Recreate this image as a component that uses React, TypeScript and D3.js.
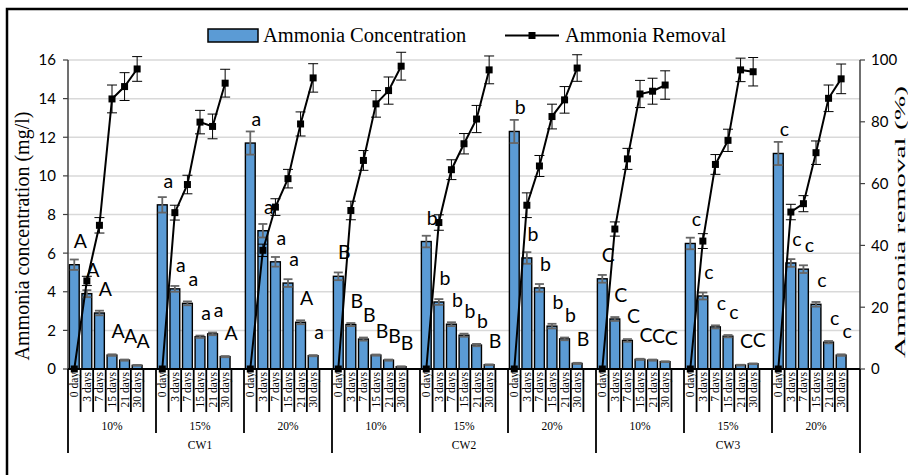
import React from "react";
import * as d3 from "d3";

const wetlands = ["CW1", "CW2", "CW3"];
const doses = ["10%", "15%", "20%", "10%", "15%", "20%", "10%", "15%", "20%"];
const days = ["0 day", "3 days", "7 days", "15 days", "21 days", "30 days"];

// Ammonia concentration (mg/l) per group (CW x dose)
const concCW1_10 = [5.4, 3.9, 2.9, 0.72, 0.46, 0.19];
const concCW1_15 = [8.5, 4.15, 3.4, 1.67, 1.82, 0.64];
const concCW1_20 = [11.7, 7.16, 5.55, 4.45, 2.42, 0.69];
const concCW2_10 = [4.8, 2.3, 1.55, 0.72, 0.46, 0.12];
const concCW2_15 = [6.6, 3.47, 2.32, 1.75, 1.24, 0.22];
const concCW2_20 = [12.3, 5.75, 4.2, 2.22, 1.56, 0.29];
const concCW3_10 = [4.67, 2.59, 1.48, 0.5, 0.46, 0.38];
const concCW3_15 = [6.5, 3.78, 2.18, 1.7, 0.2, 0.27];
const concCW3_20 = [11.16, 5.49, 5.17, 3.35, 1.39, 0.72];

const concErrCW1_10 = [0.27, 0.18, 0.12, 0.04, 0.03, 0.02];
const concErrCW1_15 = [0.4, 0.15, 0.1, 0.06, 0.07, 0.03];
const concErrCW1_20 = [0.6, 0.35, 0.25, 0.2, 0.1, 0.03];
const concErrCW2_10 = [0.2, 0.08, 0.08, 0.03, 0.03, 0.02];
const concErrCW2_15 = [0.3, 0.15, 0.1, 0.08, 0.06, 0.02];
const concErrCW2_20 = [0.6, 0.3, 0.2, 0.12, 0.07, 0.03];
const concErrCW3_10 = [0.2, 0.1, 0.07, 0.03, 0.03, 0.02];
const concErrCW3_15 = [0.3, 0.18, 0.08, 0.06, 0.02, 0.02];
const concErrCW3_20 = [0.6, 0.2, 0.2, 0.12, 0.06, 0.04];

// Ammonia removal (%)
const remCW1_10 = [0, 28.5, 46.5, 87.4, 91.4, 97.1];
const remCW1_15 = [0, 50.6, 59.7, 79.9, 78.5, 92.5];
const remCW1_20 = [0, 38.4, 52.4, 61.6, 79.3, 94.2];
const remCW2_10 = [0, 51.3, 67.5, 85.8, 90.1, 98];
const remCW2_15 = [0, 47.4, 64.5, 72.9, 80.9, 96.8];
const remCW2_20 = [0, 53, 65.7, 81.7, 87.1, 97.4];
const remCW3_10 = [0, 45.3, 68, 89, 89.9, 91.9];
const remCW3_15 = [0, 41.4, 66.2, 74, 96.8, 96.2];
const remCW3_20 = [0, 50.8, 53.5, 70, 87.6, 93.9];

const remErrCW1_10 = [0, 1.5, 2.5, 4.5, 4.5, 4];
const remErrCW1_15 = [0, 2.4, 3, 3.8, 4, 4.5];
const remErrCW1_20 = [0, 2, 2.7, 3, 3.9, 4.6];
const remErrCW2_10 = [0, 3, 3.2, 4.3, 4.4, 4.5];
const remErrCW2_15 = [0, 2.5, 3.2, 3.3, 4.4, 4.5];
const remErrCW2_20 = [0, 4, 3.4, 4, 4.3, 4.3];
const remErrCW3_10 = [0, 2.3, 3.4, 4.4, 4.2, 4.6];
const remErrCW3_15 = [0, 2.4, 3.2, 3.6, 3.8, 4.6];
const remErrCW3_20 = [0, 2.5, 2.6, 3.8, 4.3, 4.8];

const lettersCW1_10 = ["A", "A", "A", "A", "A", "A"];
const lettersCW1_15 = ["a", "a", "a", "a", "a", "A"];
const lettersCW1_20 = ["a", "a", "a", "a", "A", "a"];
const lettersCW2_10 = ["B", "B", "B", "B", "B", "B"];
const lettersCW2_15 = ["b", "b", "b", "b", "b", "B"];
const lettersCW2_20 = ["b", "b", "b", "b", "b", "B"];
const lettersCW3_10 = ["C", "C", "C", "C", "C", "C"];
const lettersCW3_15 = ["c", "c", "c", "c", "C", "C"];
const lettersCW3_20 = ["c", "c", "c", "c", "c", "c"];

const leftTicks = [0, 2, 4, 6, 8, 10, 12, 14, 16];
const rightTicks = [0, 20, 40, 60, 80, 100];

const conc = [concCW1_10, concCW1_15, concCW1_20, concCW2_10, concCW2_15, concCW2_20, concCW3_10, concCW3_15, concCW3_20];
const concErr = [concErrCW1_10, concErrCW1_15, concErrCW1_20, concErrCW2_10, concErrCW2_15, concErrCW2_20, concErrCW3_10, concErrCW3_15, concErrCW3_20];
const rem = [remCW1_10, remCW1_15, remCW1_20, remCW2_10, remCW2_15, remCW2_20, remCW3_10, remCW3_15, remCW3_20];
const remErr = [remErrCW1_10, remErrCW1_15, remErrCW1_20, remErrCW2_10, remErrCW2_15, remErrCW2_20, remErrCW3_10, remErrCW3_15, remErrCW3_20];
const letters = [lettersCW1_10, lettersCW1_15, lettersCW1_20, lettersCW2_10, lettersCW2_15, lettersCW2_20, lettersCW3_10, lettersCW3_15, lettersCW3_20];

const W = 908;
const H = 475;
const PL = 68;
const PR = 860;
const PT = 60;
const PB = 369;
const SLOTS = 7; // 6 days + 1 empty slot per group

const serif = "'Liberation Serif', 'Times New Roman', serif";
const sans = "Lato, 'Liberation Sans', sans-serif";

export default function App() {
  const nCat = doses.length * SLOTS;
  const x = d3.scaleBand<number>().domain(d3.range(nCat)).range([PL, PR]);
  const step = x.step();
  const bw = step * 0.78;
  const yL = d3.scaleLinear().domain([0, 16]).range([PB, PT]);
  const yR = d3.scaleLinear().domain([0, 100]).range([PB, PT]);
  const cx = (g: number, d: number) => (x(g * SLOTS + d) as number) + step / 2;

  return (
    <svg width={W} height={H} style={{ position: "absolute", left: 0, top: 0, background: "#fff" }}>
      <rect x={0} y={0} width={W} height={H} fill="#fff" />
      {/* outer border */}
      <rect x={7} y={9} width={1000} height={1000} fill="none" stroke="#000" strokeWidth={2.5} />

      {/* legend */}
      <rect x={208} y={29} width={50} height={13} fill="#5B9BD5" stroke="#000" strokeWidth={1.5} />
      <text x={263} y={42} fontFamily={serif} fontSize={20.5} fill="#000">Ammonia Concentration</text>
      <line x1={505} x2={559} y1={35.5} y2={35.5} stroke="#000" strokeWidth={2} />
      <rect x={528.5} y={32} width={7} height={7} fill="#000" />
      <text x={565} y={42} fontFamily={serif} fontSize={20.5} fill="#000">Ammonia Removal</text>

      {/* gridlines */}
      {leftTicks.filter((t) => t > 0).map((t) => (
        <line key={"g" + t} x1={PL} x2={PR} y1={yL(t)} y2={yL(t)} stroke="#d9d9d9" strokeWidth={1.5} />
      ))}

      {/* bars */}
      {conc.map((arr, g) =>
        arr.map((v, d) => (
          <rect
            key={"b" + g + "-" + d}
            x={cx(g, d) - bw / 2}
            y={yL(v)}
            width={bw}
            height={PB - yL(v)}
            fill="#5B9BD5"
            stroke="#000"
            strokeWidth={1.4}
          />
        ))
      )}
      {/* bar error bars */}
      {conc.map((arr, g) =>
        arr.map((v, d) => {
          const e = concErr[g][d];
          const c = cx(g, d);
          const y1 = yL(v + e);
          const y2 = yL(Math.max(0, v - e));
          return (
            <g key={"be" + g + "-" + d} stroke="#666" strokeWidth={1.8}>
              <line x1={c} x2={c} y1={y1} y2={y2} />
              <line x1={c - 4.5} x2={c + 4.5} y1={y1} y2={y1} />
              <line x1={c - 4.5} x2={c + 4.5} y1={y2} y2={y2} />
            </g>
          );
        })
      )}

      {/* removal lines */}
      {rem.map((arr, g) => {
        const lg = d3
          .line<number>()
          .x((_, i) => cx(g, i))
          .y((v) => yR(v));
        return <path key={"l" + g} d={lg(arr) || ""} fill="none" stroke="#000" strokeWidth={2} />;
      })}
      {rem.map((arr, g) =>
        arr.map((v, d) => {
          const e = remErr[g][d];
          if (e <= 0) return null;
          const c = cx(g, d);
          const y1 = yR(v + e);
          const y2 = yR(v - e);
          return (
            <g key={"le" + g + "-" + d} stroke="#000" strokeWidth={1}>
              <line x1={c} x2={c} y1={y1} y2={y2} />
              <line x1={c - 5} x2={c + 5} y1={y1} y2={y1} />
              <line x1={c - 5} x2={c + 5} y1={y2} y2={y2} />
            </g>
          );
        })
      )}
      {rem.map((arr, g) =>
        arr.map((v, d) => (
          <rect key={"m" + g + "-" + d} x={cx(g, d) - 3.5} y={yR(v) - 3.5} width={7} height={7} fill="#000" />
        ))
      )}

      {/* letter labels */}
      {letters.map((arr, g) =>
        arr.map((t, d) => (
          <text
            key={"t" + g + "-" + d}
            x={cx(g, d) + 6}
            y={yL(conc[g][d]) - 17}
            textAnchor="middle"
            fontFamily={sans}
            fontSize={19.5}
            fill="#000"
          >
            {t}
          </text>
        ))
      )}

      {/* left axis */}
      <line x1={PL} x2={PL} y1={PT} y2={PB} stroke="#404040" strokeWidth={1.5} />
      {leftTicks.map((t) => (
        <g key={"lt" + t}>
          <line x1={PL - 5} x2={PL} y1={yL(t)} y2={yL(t)} stroke="#404040" strokeWidth={1.2} />
          <text x={56} y={yL(t)} dy="0.36em" textAnchor="end" fontFamily={sans} fontSize={15} fill="#000">
            {t}
          </text>
        </g>
      ))}
      {/* right axis */}
      <line x1={PR} x2={PR} y1={PT} y2={PB} stroke="#404040" strokeWidth={1.5} />
      {rightTicks.map((t) => (
        <g key={"rt" + t}>
          <line x1={PR} x2={PR + 5} y1={yR(t)} y2={yR(t)} stroke="#404040" strokeWidth={1.2} />
          <text x={871} y={yR(t)} dy="0.36em" textAnchor="start" fontFamily={sans} fontSize={15} fill="#000">
            {t}
          </text>
        </g>
      ))}

      {/* axis titles */}
      <text
        transform={`translate(29,236) rotate(-90)`}
        textAnchor="middle"
        fontFamily={serif}
        fontSize={20}
        fill="#000"
      >
        Ammonia concentration (mg/l)
      </text>
      <text
        transform={`translate(905,222) rotate(-90)`}
        textAnchor="middle"
        fontFamily={serif}
        fontSize={15}
        textLength={272}
        lengthAdjust="spacingAndGlyphs"
        fill="#000"
      >
        Ammonia removal (%)
      </text>

      {/* category axis */}
      <line x1={PL} x2={PR} y1={PB} y2={PB} stroke="#000" strokeWidth={2} />
      {d3.range(nCat + 1).map((i) => {
        const xx = PL + i * step;
        const y2 = i % (SLOTS * 3) === 0 ? 453 : i % SLOTS === 0 ? 433 : 412;
        return <line key={"s" + i} x1={xx} x2={xx} y1={PB} y2={y2} stroke="#000" strokeWidth={1.8} />;
      })}
      {doses.map((_, g) =>
        days.map((dl, d) => (
          <text
            key={"dl" + g + "-" + d}
            transform={`translate(${cx(g, d)},372) rotate(-90)`}
            dy="0.35em"
            textAnchor="end"
            fontFamily={serif}
            fontSize={11.5}
            fill="#000"
          >
            {dl}
          </text>
        ))
      )}
      {doses.map((ds, g) => (
        <text
          key={"ds" + g}
          x={PL + (g + 0.5) * SLOTS * step}
          y={430}
          textAnchor="middle"
          fontFamily={serif}
          fontSize={11.5}
          fill="#000"
        >
          {ds}
        </text>
      ))}
      {wetlands.map((w, k) => (
        <text
          key={"w" + k}
          x={PL + (k + 0.5) * SLOTS * 3 * step}
          y={449}
          textAnchor="middle"
          fontFamily={serif}
          fontSize={11.5}
          fill="#000"
        >
          {w}
        </text>
      ))}
    </svg>
  );
}
